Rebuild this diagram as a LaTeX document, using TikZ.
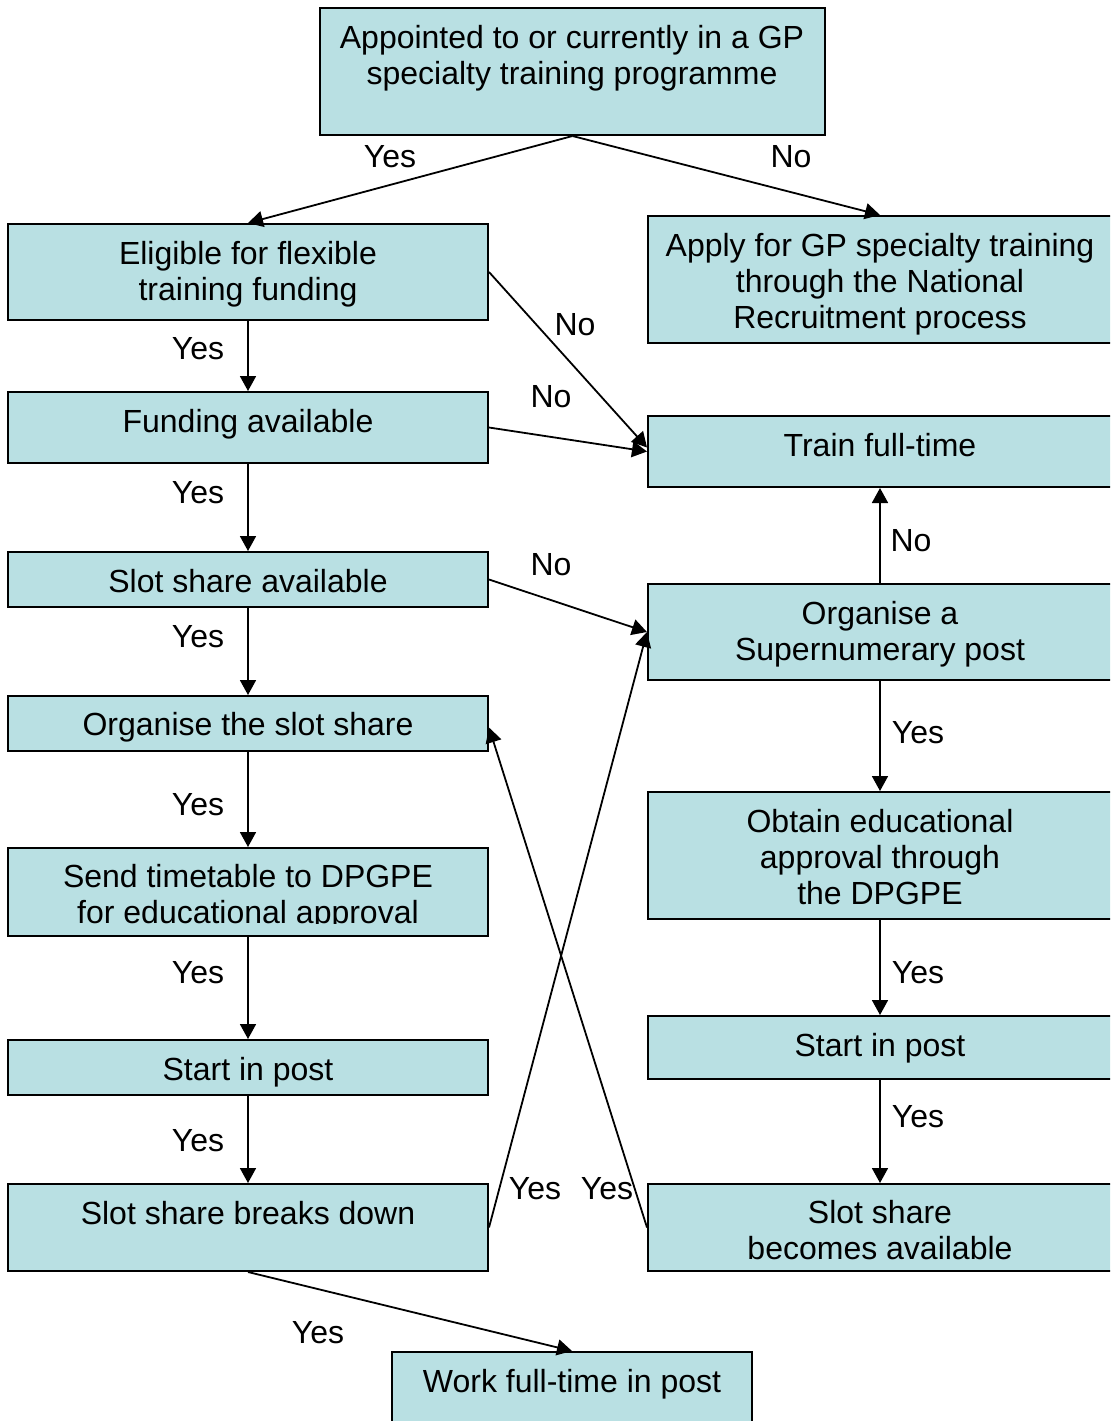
\documentclass[tikz,border=0pt]{standalone}
\usepackage{fontspec}
\setmainfont{Liberation Sans}
\usetikzlibrary{arrows.meta,fit}
\definecolor{boxfill}{RGB}{185,224,227}
\tikzset{
  box/.style={draw=black, fill=boxfill, line width=1pt, inner sep=0pt},
  txt/.style={font=\fontsize{16}{18}\selectfont, inner sep=0pt, anchor=base},
  lbl/.style={font=\fontsize{16}{18}\selectfont, inner sep=0pt, anchor=base},
  arr/.style={line width=0.9pt, -{Triangle[length=7.5pt,width=8pt]}},
}
\newcommand\mlines[1]{\begin{tabular}[t]{@{}c@{}}#1\end{tabular}}
\begin{document}
\begin{tikzpicture}[x=0.5pt,y=-0.5pt]
\clip (0,0) rectangle (1110,1421);
% boxes
\node[box, fit={(320,8) (825,135)}] (top) {};
\node[box, fit={(8,224) (488,320)}] (elig) {};
\node[box, fit={(648,216) (1112,343)}] (apply) {};
\node[box, fit={(8,392) (488,463)}] (fund) {};
\node[box, fit={(648,416) (1112,487)}] (train) {};
\node[box, fit={(8,552) (488,607)}] (slotav) {};
\node[box, fit={(648,584) (1112,680)}] (super) {};
\node[box, fit={(8,696) (488,751)}] (orgslot) {};
\node[box, fit={(648,792) (1112,919)}] (obtain) {};
\node[box, fit={(8,848) (488,936)}] (send) {};
\node[box, fit={(8,1040) (488,1095)}] (startL) {};
\node[box, fit={(648,1016) (1112,1079)}] (startR) {};
\node[box, fit={(8,1184) (488,1271)}] (breaks) {};
\node[box, fit={(648,1184) (1112,1271)}] (becomes) {};
\node[box, fit={(392,1352) (752,1440)}] (work) {};
% texts
\node[txt] (ttop) at (572,48) {\mlines{Appointed to or currently in a GP\\ specialty training programme}};
\node[txt] (telig) at (248,264) {\mlines{Eligible for flexible\\ training funding}};
\node[txt] (tapply) at (880,256) {\mlines{Apply for GP specialty training\\ through the National\\ Recruitment process}};
\node[txt] (tfund) at (248,432) {Funding available};
\node[txt] (ttrain) at (880,456) {Train full-time};
\node[txt] (tslotav) at (248,592) {Slot share available};
\node[txt] (tsuper) at (880,624) {\mlines{Organise a\\ Supernumerary post}};
\node[txt] (torgslot) at (248,735) {Organise the slot share};
\node[txt] (tobtain) at (880,832) {\mlines{Obtain educational\\ approval through\\ the DPGPE}};
\begin{scope}
  \clip (8,848) rectangle (488,923);
  \node[txt] (tsend) at (248,887) {\mlines{Send timetable to DPGPE\\ for educational approval}};
\end{scope}
\node[txt] (tstartL) at (248,1080) {Start in post};
\node[txt] (tstartR) at (880,1056) {Start in post};
\node[txt] (tbreaks) at (248,1224) {Slot share breaks down};
\node[txt] (tbecomes) at (880,1223) {\mlines{Slot share\\ becomes available}};
\node[txt] (twork) at (572,1392) {Work full-time in post};
% connectors
\draw[arr] (top.south) -- (elig.north);
\draw[arr] (top.south) -- (apply.north);
\draw[arr] (elig.east) -- ([yshift=2pt]train.west);
\draw[arr] (elig.south) -- (fund.north);
\draw[arr] (fund.east) -- (train.west);
\draw[arr] (fund.south) -- (slotav.north);
\draw[arr] (slotav.east) -- (super.west);
\draw[arr] (slotav.south) -- (orgslot.north);
\draw[arr] (super.north) -- (train.south);
\draw[arr] (super.south) -- (obtain.north);
\draw[arr] (orgslot.south) -- (send.north);
\draw[arr] (obtain.south) -- (startR.north);
\draw[arr] (send.south) -- (startL.north);
\draw[arr] (startR.south) -- (becomes.north);
\draw[arr] (startL.south) -- (breaks.north);
\draw[arr] (breaks.east) -- (super.west);
\draw[arr] (becomes.west) -- ([yshift=-2pt]orgslot.east);
\draw[arr] (breaks.south) -- (work.north);
% labels
\node[lbl] (l1) at (390,167) {Yes};
\node[lbl] (l2) at (791,167) {No};
\node[lbl] (l3) at (575,335) {No};
\node[lbl] (l4) at (198,359) {Yes};
\node[lbl] (l5) at (551,407) {No};
\node[lbl] (l6) at (198,503) {Yes};
\node[lbl] (l7) at (551,575) {No};
\node[lbl] (l8) at (198,647) {Yes};
\node[lbl] (l9) at (911,551) {No};
\node[lbl] (l10) at (918,743) {Yes};
\node[lbl] (l11) at (198,815) {Yes};
\node[lbl] (l12) at (918,983) {Yes};
\node[lbl] (l13) at (198,983) {Yes};
\node[lbl] (l14) at (918,1127) {Yes};
\node[lbl] (l15) at (198,1151) {Yes};
\node[lbl] (l16) at (535,1199) {Yes};
\node[lbl] (l17) at (607,1199) {Yes};
\node[lbl] (l18) at (318,1343) {Yes};
\end{tikzpicture}
\end{document}
